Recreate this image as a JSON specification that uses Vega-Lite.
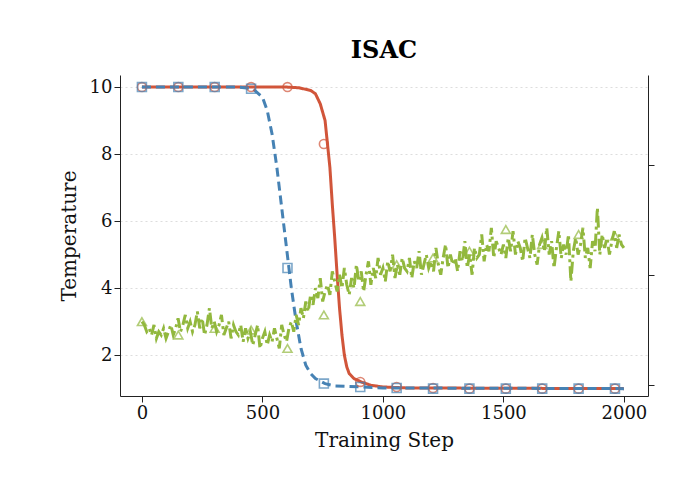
{
"$schema":"https://vega.github.io/schema/vega-lite/v6.json",
"width":528,"height":321,"autosize":{"type":"none"},
"padding":{"left":120,"top":75,"right":30,"bottom":106},
"config":{"font":"DejaVu Serif","view":{"stroke":null}},
"title":{"text":"ISAC","fontSize":24,"fontWeight":"bold","font":"DejaVu Serif","offset":12},
"datasets":{
"curves":[
{"s":"r","x":0,"y":10},{"s":"r","x":600,"y":10},{"s":"r","x":650,"y":9.98},{"s":"r","x":700,"y":9.9},{"s":"r","x":720,"y":9.8},{"s":"r","x":740,"y":9.5},{"s":"r","x":760,"y":9.0},{"s":"r","x":770,"y":8.3},{"s":"r","x":780,"y":7.6},{"s":"r","x":790,"y":6.5},{"s":"r","x":800,"y":5.5},{"s":"r","x":810,"y":4.4},{"s":"r","x":820,"y":3.4},{"s":"r","x":830,"y":2.6},{"s":"r","x":840,"y":2.0},{"s":"r","x":850,"y":1.65},{"s":"r","x":860,"y":1.45},{"s":"r","x":880,"y":1.3},{"s":"r","x":910,"y":1.2},{"s":"r","x":950,"y":1.1},{"s":"r","x":1000,"y":1.05},{"s":"r","x":1100,"y":1.02},{"s":"r","x":2000,"y":1.0},
{"s":"b","x":0,"y":10},{"s":"b","x":400,"y":10},{"s":"b","x":460,"y":9.95},{"s":"b","x":500,"y":9.7},{"s":"b","x":520,"y":9.3},{"s":"b","x":540,"y":8.6},{"s":"b","x":560,"y":7.6},{"s":"b","x":580,"y":6.4},{"s":"b","x":600,"y":5.2},{"s":"b","x":610,"y":4.6},{"s":"b","x":620,"y":4.0},{"s":"b","x":640,"y":3.0},{"s":"b","x":660,"y":2.2},{"s":"b","x":680,"y":1.7},{"s":"b","x":700,"y":1.45},{"s":"b","x":720,"y":1.3},{"s":"b","x":760,"y":1.15},{"s":"b","x":800,"y":1.08},{"s":"b","x":910,"y":1.05},{"s":"b","x":1000,"y":1.02},{"s":"b","x":2000,"y":1.0},
{"s":"g","x":0,"y":3.0},{"s":"g","x":10,"y":2.9},{"s":"g","x":20,"y":2.7},{"s":"g","x":30,"y":2.8},{"s":"g","x":40,"y":2.6},{"s":"g","x":50,"y":2.9},{"s":"g","x":60,"y":2.5},{"s":"g","x":70,"y":2.7},{"s":"g","x":80,"y":2.6},{"s":"g","x":90,"y":2.8},
{"s":"g","x":100,"y":2.5},{"s":"g","x":110,"y":2.7},{"s":"g","x":120,"y":2.9},{"s":"g","x":130,"y":2.6},{"s":"g","x":140,"y":2.8},{"s":"g","x":150,"y":3.1},{"s":"g","x":160,"y":2.7},{"s":"g","x":170,"y":2.9},{"s":"g","x":180,"y":3.2},{"s":"g","x":190,"y":2.8},
{"s":"g","x":200,"y":3.0},{"s":"g","x":210,"y":2.7},{"s":"g","x":220,"y":2.9},{"s":"g","x":230,"y":3.3},{"s":"g","x":240,"y":2.8},{"s":"g","x":250,"y":3.1},{"s":"g","x":260,"y":2.6},{"s":"g","x":270,"y":2.9},{"s":"g","x":280,"y":3.4},{"s":"g","x":290,"y":2.8},
{"s":"g","x":300,"y":3.0},{"s":"g","x":310,"y":2.7},{"s":"g","x":320,"y":2.9},{"s":"g","x":330,"y":3.2},{"s":"g","x":340,"y":2.6},{"s":"g","x":350,"y":2.8},{"s":"g","x":360,"y":3.0},{"s":"g","x":370,"y":2.5},{"s":"g","x":380,"y":2.9},{"s":"g","x":390,"y":2.7},
{"s":"g","x":400,"y":2.6},{"s":"g","x":410,"y":2.9},{"s":"g","x":420,"y":2.4},{"s":"g","x":430,"y":2.8},{"s":"g","x":440,"y":2.5},{"s":"g","x":450,"y":2.7},{"s":"g","x":460,"y":2.3},{"s":"g","x":470,"y":2.6},{"s":"g","x":480,"y":2.9},{"s":"g","x":490,"y":2.2},
{"s":"g","x":500,"y":2.5},{"s":"g","x":510,"y":2.7},{"s":"g","x":520,"y":2.3},{"s":"g","x":530,"y":2.6},{"s":"g","x":540,"y":2.4},{"s":"g","x":550,"y":2.8},{"s":"g","x":560,"y":2.5},{"s":"g","x":570,"y":2.2},{"s":"g","x":580,"y":2.9},{"s":"g","x":590,"y":2.6},
{"s":"g","x":600,"y":2.4},{"s":"g","x":610,"y":2.8},{"s":"g","x":620,"y":3.0},{"s":"g","x":630,"y":2.7},{"s":"g","x":640,"y":3.2},{"s":"g","x":650,"y":2.9},{"s":"g","x":660,"y":3.4},{"s":"g","x":670,"y":3.1},{"s":"g","x":680,"y":3.6},{"s":"g","x":690,"y":3.3},
{"s":"g","x":700,"y":3.8},{"s":"g","x":710,"y":3.5},{"s":"g","x":720,"y":4.0},{"s":"g","x":730,"y":3.7},{"s":"g","x":740,"y":4.3},{"s":"g","x":750,"y":3.6},{"s":"g","x":760,"y":3.9},{"s":"g","x":770,"y":4.1},{"s":"g","x":780,"y":3.8},{"s":"g","x":790,"y":4.5},
{"s":"g","x":800,"y":4.2},{"s":"g","x":810,"y":3.9},{"s":"g","x":820,"y":4.4},{"s":"g","x":830,"y":4.0},{"s":"g","x":840,"y":4.6},{"s":"g","x":850,"y":4.1},{"s":"g","x":860,"y":3.8},{"s":"g","x":870,"y":4.3},{"s":"g","x":880,"y":4.0},{"s":"g","x":890,"y":4.7},
{"s":"g","x":900,"y":4.2},{"s":"g","x":910,"y":4.5},{"s":"g","x":920,"y":3.9},{"s":"g","x":930,"y":4.4},{"s":"g","x":940,"y":4.8},{"s":"g","x":950,"y":4.1},{"s":"g","x":960,"y":4.6},{"s":"g","x":970,"y":4.3},{"s":"g","x":980,"y":4.9},{"s":"g","x":990,"y":4.4},
{"s":"g","x":1000,"y":4.6},{"s":"g","x":1010,"y":4.2},{"s":"g","x":1020,"y":4.8},{"s":"g","x":1030,"y":4.5},{"s":"g","x":1040,"y":5.0},{"s":"g","x":1050,"y":4.3},{"s":"g","x":1060,"y":4.7},{"s":"g","x":1070,"y":4.4},{"s":"g","x":1080,"y":4.9},{"s":"g","x":1090,"y":4.6},
{"s":"g","x":1100,"y":4.5},{"s":"g","x":1110,"y":4.9},{"s":"g","x":1120,"y":4.3},{"s":"g","x":1130,"y":4.8},{"s":"g","x":1140,"y":4.6},{"s":"g","x":1150,"y":5.1},{"s":"g","x":1160,"y":4.4},{"s":"g","x":1170,"y":4.7},{"s":"g","x":1180,"y":5.0},{"s":"g","x":1190,"y":4.6},
{"s":"g","x":1200,"y":4.8},{"s":"g","x":1210,"y":4.5},{"s":"g","x":1220,"y":5.2},{"s":"g","x":1230,"y":4.7},{"s":"g","x":1240,"y":4.4},{"s":"g","x":1250,"y":4.9},{"s":"g","x":1260,"y":5.3},{"s":"g","x":1270,"y":4.6},{"s":"g","x":1280,"y":5.0},{"s":"g","x":1290,"y":4.7},
{"s":"g","x":1300,"y":4.9},{"s":"g","x":1310,"y":4.5},{"s":"g","x":1320,"y":5.1},{"s":"g","x":1330,"y":4.8},{"s":"g","x":1340,"y":5.4},{"s":"g","x":1350,"y":4.6},{"s":"g","x":1360,"y":5.0},{"s":"g","x":1370,"y":4.4},{"s":"g","x":1380,"y":5.2},{"s":"g","x":1390,"y":4.9},
{"s":"g","x":1400,"y":5.0},{"s":"g","x":1410,"y":5.6},{"s":"g","x":1420,"y":4.8},{"s":"g","x":1430,"y":5.3},{"s":"g","x":1440,"y":5.1},{"s":"g","x":1450,"y":5.8},{"s":"g","x":1460,"y":4.9},{"s":"g","x":1470,"y":5.4},{"s":"g","x":1480,"y":5.2},{"s":"g","x":1490,"y":5.0},
{"s":"g","x":1500,"y":5.3},{"s":"g","x":1510,"y":4.9},{"s":"g","x":1520,"y":5.5},{"s":"g","x":1530,"y":5.1},{"s":"g","x":1540,"y":5.7},{"s":"g","x":1550,"y":5.0},{"s":"g","x":1560,"y":5.4},{"s":"g","x":1570,"y":5.2},{"s":"g","x":1580,"y":4.8},{"s":"g","x":1590,"y":5.5},
{"s":"g","x":1600,"y":5.2},{"s":"g","x":1610,"y":4.9},{"s":"g","x":1620,"y":5.6},{"s":"g","x":1630,"y":5.0},{"s":"g","x":1640,"y":4.7},{"s":"g","x":1650,"y":5.3},{"s":"g","x":1660,"y":5.5},{"s":"g","x":1670,"y":5.1},{"s":"g","x":1680,"y":5.8},{"s":"g","x":1690,"y":5.0},
{"s":"g","x":1700,"y":5.4},{"s":"g","x":1710,"y":4.6},{"s":"g","x":1720,"y":5.2},{"s":"g","x":1730,"y":5.7},{"s":"g","x":1740,"y":4.9},{"s":"g","x":1750,"y":5.3},{"s":"g","x":1760,"y":5.0},{"s":"g","x":1770,"y":5.6},{"s":"g","x":1780,"y":4.2},{"s":"g","x":1790,"y":5.1},
{"s":"g","x":1800,"y":5.5},{"s":"g","x":1810,"y":5.0},{"s":"g","x":1820,"y":5.3},{"s":"g","x":1830,"y":5.8},{"s":"g","x":1840,"y":4.9},{"s":"g","x":1850,"y":5.2},{"s":"g","x":1860,"y":4.6},{"s":"g","x":1870,"y":5.4},{"s":"g","x":1880,"y":5.1},{"s":"g","x":1890,"y":6.4},
{"s":"g","x":1900,"y":5.0},{"s":"g","x":1910,"y":5.6},{"s":"g","x":1920,"y":5.2},{"s":"g","x":1930,"y":5.5},{"s":"g","x":1940,"y":5.0},{"s":"g","x":1950,"y":5.4},{"s":"g","x":1960,"y":5.7},{"s":"g","x":1970,"y":5.2},{"s":"g","x":1980,"y":5.6},{"s":"g","x":1990,"y":5.3},{"s":"g","x":2000,"y":5.2}
],
"markers":[
{"s":"r","x":0,"y":10},{"s":"r","x":151,"y":10},{"s":"r","x":302,"y":10},{"s":"r","x":453,"y":10},{"s":"r","x":604,"y":10},{"s":"r","x":755,"y":8.3},{"s":"r","x":906,"y":1.2},{"s":"r","x":1057,"y":1.05},{"s":"r","x":1208,"y":1.02},{"s":"r","x":1359,"y":1.0},{"s":"r","x":1510,"y":1.0},{"s":"r","x":1661,"y":1.0},{"s":"r","x":1812,"y":1.0},{"s":"r","x":1963,"y":1.0},
{"s":"b","x":0,"y":10},{"s":"b","x":151,"y":10},{"s":"b","x":302,"y":10},{"s":"b","x":453,"y":9.95},{"s":"b","x":604,"y":4.6},{"s":"b","x":755,"y":1.15},{"s":"b","x":906,"y":1.05},{"s":"b","x":1057,"y":1.02},{"s":"b","x":1208,"y":1.0},{"s":"b","x":1359,"y":1.0},{"s":"b","x":1510,"y":1.0},{"s":"b","x":1661,"y":1.0},{"s":"b","x":1812,"y":1.0},{"s":"b","x":1963,"y":1.0},
{"s":"g","x":0,"y":3.0},{"s":"g","x":151,"y":2.6},{"s":"g","x":302,"y":2.8},{"s":"g","x":453,"y":2.75},{"s":"g","x":604,"y":2.2},{"s":"g","x":755,"y":3.2},{"s":"g","x":906,"y":3.6},{"s":"g","x":1057,"y":4.7},{"s":"g","x":1208,"y":4.9},{"s":"g","x":1359,"y":5.1},{"s":"g","x":1510,"y":5.75},{"s":"g","x":1661,"y":5.3},{"s":"g","x":1812,"y":5.6},{"s":"g","x":1963,"y":5.55}
]},
"layer":[
{"layer":[
{"data":{"name":"curves"},"mark":{"type":"line","strokeWidth":3},
"encoding":{
"x":{"field":"x","type":"quantitative","scale":{"domain":[-91,2100],"nice":false,"zero":false},"axis":{"values":[0,500,1000,1500,2000],"format":"d","title":"Training Step","grid":false,"titlePadding":8,"labelFontSize":18,"titleFontSize":20,"titleFontWeight":"normal","labelFont":"DejaVu Serif","titleFont":"DejaVu Serif","domainColor":"#222","tickColor":"#222","labelColor":"#111","titleColor":"#111","tickSize":6}},
"y":{"field":"y","type":"quantitative","scale":{"domain":[0.78,10.36],"nice":false,"zero":false},"axis":{"values":[2,4,6,8,10],"title":"Temperature","grid":true,"gridDash":[2,3],"gridColor":"#ddd","titlePadding":10,"labelFontSize":18,"titleFontSize":20,"titleFontWeight":"normal","labelFont":"DejaVu Serif","titleFont":"DejaVu Serif","domainColor":"#222","tickColor":"#222","labelColor":"#111","titleColor":"#111","tickSize":6}},
"color":{"field":"s","type":"nominal","scale":{"domain":["r","b","g"],"range":["#d1553a","#4682b4","#92b83e"]},"legend":null},
"strokeDash":{"field":"s","type":"nominal","scale":{"domain":["r","b","g"],"range":[[1,0],[9,5],[12,4,3,4]]},"legend":null},
"order":{"field":"x","type":"quantitative"}}},
{"data":{"name":"markers"},"mark":{"type":"point","filled":false,"size":80,"strokeWidth":1.6},
"encoding":{
"x":{"field":"x","type":"quantitative"},
"y":{"field":"y","type":"quantitative"},
"color":{"field":"s","type":"nominal","legend":null},
"shape":{"field":"s","type":"nominal","scale":{"domain":["r","b","g"],"range":["circle","square","triangle-up"]},"legend":null}}}
]},
{"data":{"name":"markers"},"mark":{"type":"point","opacity":0},
"encoding":{
"x":{"field":"x","type":"quantitative"},
"y":{"field":"y","type":"quantitative","scale":{"domain":[0.78,10.36],"nice":false,"zero":false},"axis":{"orient":"right","values":[1.1,4.39,7.67],"labels":false,"title":null,"grid":false,"domainColor":"#222","tickColor":"#222","tickSize":6}}}}
],
"resolve":{"scale":{"y":"independent"}}
}
